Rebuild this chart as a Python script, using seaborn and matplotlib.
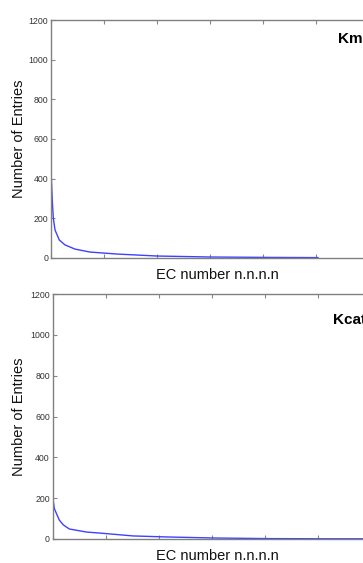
import matplotlib
matplotlib.use("Agg")
import matplotlib.pyplot as plt
import seaborn as sns
import pandas as pd

# Km panel: rank of EC number vs number of entries
km_rank = [0, 12, 22, 38, 78, 132, 226, 368, 622, 1000, 1500, 2038, 2520]
km_entries = [443, 292, 200, 141, 91, 66, 45, 30, 20, 10, 5, 3, 2]

# Kcat panel
kcat_rank = [0, 15, 31, 62, 100, 157, 320, 446, 758, 1078, 1512, 2021, 2587, 2950]
kcat_entries = [206, 150, 130, 93, 69, 49, 34, 29, 15, 10, 5, 2, 1, 1]

y_ticks = [0, 200, 400, 600, 800, 1000, 1200]
x_ticks = [0, 500, 1000, 1500, 2000, 2500, 3000, 3500]
panel_labels = ["Km", "Kcat"]

sns.set_theme(style="white")
plt.rcParams['font.family'] = ['Liberation Sans', 'DejaVu Sans']

W, H = 363, 563
fig = plt.figure(figsize=(W / 100, H / 100), dpi=100)

axw = 371
panels = [
    (km_rank, km_entries, 51, 20, 258, panel_labels[0], 338, 39, 275),
    (kcat_rank, kcat_entries, 52.7, 294, 539, panel_labels[1], 333, 320, 556),
]

for xs, ys, left, top, bot, lab, lx, ly, xly in panels:
    ax = fig.add_axes([left / W, (H - bot) / H, axw / W, (bot - top) / H])
    df = pd.DataFrame({"rank": xs, "entries": ys})
    sns.lineplot(data=df, x="rank", y="entries", ax=ax, color=(0.25, 0.25, 1.0),
                 linewidth=1.0, zorder=1)
    ax.set_xlim(0, 3500)
    ax.set_ylim(0, 1200)
    ax.set_yticks(y_ticks)
    ax.set_xticks(x_ticks)
    ax.set_xticklabels([])
    ax.tick_params(axis="both", direction="in", length=3, width=0.8,
                   color="#888888", labelsize=6.3, labelcolor="#333333",
                   top=True, bottom=True, left=True, right=False, pad=2)
    for s in ax.spines.values():
        s.set_color("#808080")
        s.set_linewidth(1.0)
        s.set_zorder(3)
    ax.set_xlabel("")
    ax.set_ylabel("")
    fig.text(19 / W, 1 - ((top + bot) / 2) / H, "Number of Entries", rotation=90,
             ha="center", va="center", fontsize=10.5, color="#111111")
    fig.text(217 / W, 1 - xly / H, "EC number n.n.n.n", ha="center", va="center",
             fontsize=10.5, color="#111111")
    fig.text(lx / W, 1 - ly / H, lab, ha="left", va="center", fontsize=11,
             fontweight="bold", color="black")

fig.savefig("out.png", dpi=100)
